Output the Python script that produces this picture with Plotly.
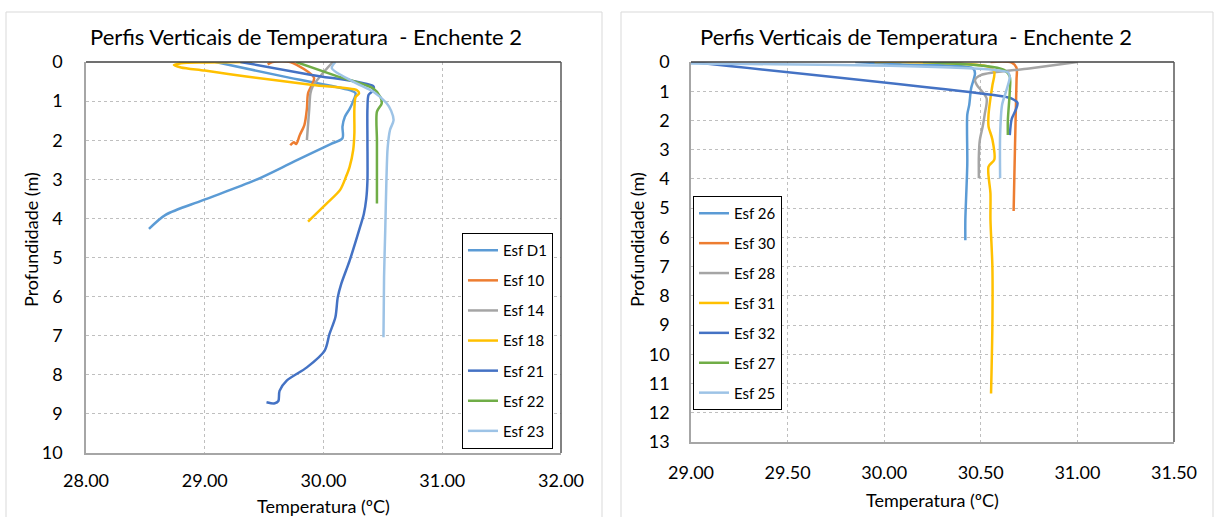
import plotly.graph_objects as go

W, H = 1214, 517

# ---------------- data: chart 1 (left) ----------------
title_text = "Perfis Verticais de Temperatura  - Enchente 2"
x_title = "Temperatura (ºC)"
y_title = "Profundidade (m)"

left_names = ["Esf D1", "Esf 10", "Esf 14", "Esf 18", "Esf 21", "Esf 22", "Esf 23"]

d1_temp = [29.09, 29.68, 30.22, 30.27, 30.25, 30.22, 30.18, 30.16, 30.16, 30.06, 29.75, 29.42, 28.98, 28.67, 28.53]
d1_depth = [0.00, 0.38, 0.72, 0.80, 1.00, 1.20, 1.40, 1.65, 1.95, 2.10, 2.55, 3.03, 3.54, 3.91, 4.27]

e10_temp = [29.53, 29.57, 29.72, 29.92, 29.90, 29.87, 29.86, 29.84, 29.80, 29.77, 29.75, 29.72]
e10_depth = [0.06, 0.00, 0.00, 0.40, 0.60, 0.80, 1.20, 1.60, 1.87, 2.10, 2.05, 2.13]

e14_temp = [30.08, 29.99, 29.91, 29.89, 29.88, 29.87, 29.86]
e14_depth = [0.00, 0.30, 0.62, 0.80, 1.20, 1.60, 2.00]

e18_temp = [29.40, 29.00, 28.80, 28.74, 28.80, 29.00, 29.35, 29.91, 30.28, 30.30, 30.27, 30.26, 30.26, 30.25, 30.22, 30.19, 30.14, 30.03, 29.87]
e18_depth = [0.00, 0.01, 0.03, 0.08, 0.14, 0.22, 0.37, 0.59, 0.72, 0.80, 0.90, 1.20, 1.82, 2.25, 2.68, 2.93, 3.27, 3.61, 4.08]

e21_temp = [29.30, 29.90, 30.42, 30.42, 30.38, 30.37, 30.37, 30.37, 30.36, 30.34, 30.31, 30.22, 30.15, 30.12, 30.10, 30.05, 30.01, 29.86, 29.69, 29.63, 29.62, 29.59, 29.52]
e21_depth = [0.00, 0.33, 0.62, 0.72, 0.84, 1.20, 2.00, 3.03, 3.50, 3.88, 4.20, 5.08, 5.67, 6.02, 6.53, 6.96, 7.38, 7.81, 8.15, 8.41, 8.67, 8.73, 8.70]

e22_temp = [29.77, 30.10, 30.42, 30.48, 30.49, 30.45, 30.45, 30.45, 30.45]
e22_depth = [0.00, 0.35, 0.68, 0.90, 1.06, 1.27, 2.00, 3.00, 3.62]

e23_temp = [30.10, 30.07, 30.25, 30.42, 30.53, 30.57, 30.59, 30.56, 30.54, 30.53, 30.52, 30.51, 30.505]
e23_depth = [0.00, 0.16, 0.50, 0.76, 1.05, 1.25, 1.49, 1.74, 2.20, 3.00, 4.30, 5.50, 7.04]

left_temps = [d1_temp, e10_temp, e14_temp, e18_temp, e21_temp, e22_temp, e23_temp]
left_depths = [d1_depth, e10_depth, e14_depth, e18_depth, e21_depth, e22_depth, e23_depth]

left_x_ticks = [28.0, 29.0, 30.0, 31.0, 32.0]
left_y_ticks = list(range(0, 11))

# ---------------- data: chart 2 (right) ----------------
right_names = ["Esf 26", "Esf 30", "Esf 28", "Esf 31", "Esf 32", "Esf 27", "Esf 25"]

e26_temp = [29.85, 30.08, 30.46, 30.47, 30.45, 30.44, 30.43, 30.43, 30.42, 30.42]
e26_depth = [0.00, 0.08, 0.22, 0.39, 0.90, 1.47, 1.80, 3.50, 5.40, 6.10]

e30_temp = [30.55, 30.66, 30.685, 30.685, 30.68, 30.675, 30.67]
e30_depth = [0.00, 0.02, 0.20, 0.60, 2.00, 3.50, 5.10]

e28_temp = [31.00, 30.75, 30.50, 30.47, 30.48, 30.53, 30.52, 30.51, 30.495, 30.49, 30.49]
e28_depth = [0.00, 0.22, 0.45, 0.62, 0.79, 1.24, 1.80, 2.20, 2.67, 3.20, 3.98]

e31_temp = [29.95, 30.10, 30.54, 30.57, 30.56, 30.55, 30.54, 30.54, 30.56, 30.57, 30.54, 30.55, 30.55, 30.56, 30.56, 30.553]
e31_depth = [0.00, 0.00, 0.16, 0.33, 0.80, 1.24, 1.80, 2.20, 2.65, 3.34, 3.58, 4.50, 5.40, 7.00, 9.00, 11.34]

e32_temp = [29.00, 30.61, 30.66, 30.69, 30.68, 30.66, 30.65]
e32_depth = [0.00, 1.17, 1.25, 1.40, 1.65, 1.95, 2.50]

e27_temp = [30.20, 30.50, 30.62, 30.65, 30.65, 30.64, 30.64]
e27_depth = [0.00, 0.12, 0.27, 0.50, 1.00, 2.00, 2.50]

e25_temp = [29.00, 30.08, 30.58, 30.64, 30.65, 30.63, 30.61, 30.60, 30.60]
e25_depth = [0.05, 0.14, 0.28, 0.35, 0.50, 1.02, 1.47, 2.50, 3.98]

right_temps = [e26_temp, e30_temp, e28_temp, e31_temp, e32_temp, e27_temp, e25_temp]
right_depths = [e26_depth, e30_depth, e28_depth, e31_depth, e32_depth, e27_depth, e25_depth]

right_x_ticks = [29.0, 29.5, 30.0, 30.5, 31.0, 31.5]
right_y_ticks = list(range(0, 14))

# ---------------- styling ----------------
left_colors = ["#5B9BD5", "#ED7D31", "#A5A5A5", "#FFC000", "#4472C4", "#70AD47", "#9DC3E6"]
right_colors = ["#5B9BD5", "#ED7D31", "#A5A5A5", "#FFC000", "#4472C4", "#70AD47", "#9DC3E6"]
FONT = "Lato"


def px(x):
    return x / W


def py(y):
    return 1 - y / H


fig = go.Figure()

for i, name in enumerate(left_names):
    fig.add_trace(go.Scatter(
        x=left_temps[i], y=left_depths[i], name=name, mode="lines",
        line=dict(color=left_colors[i], width=2.5, shape="spline", smoothing=0.8),
        xaxis="x", yaxis="y", legend="legend", legendgroup="L" + name,
    ))

for i, name in enumerate(right_names):
    fig.add_trace(go.Scatter(
        x=right_temps[i], y=right_depths[i], name=name, mode="lines",
        line=dict(color=right_colors[i], width=2.5, shape="spline", smoothing=0.8),
        xaxis="x2", yaxis="y2", legend="legend2", legendgroup="R" + name,
    ))

# plot-area pixel boxes
L = dict(x0=86, x1=561, y0=62, y1=453)
R = dict(x0=691, x1=1174, y0=62, y1=442)

common_axis = dict(
    showline=True, linecolor="#A6A6A6", linewidth=1.5, automargin=False,
    showgrid=True, gridcolor="#BFBFBF", griddash="dot", gridwidth=1,
    zeroline=False, ticks="", tickfont=dict(family=FONT, size=18, color="#000"),
)

fig.update_layout(
    template="none",
    width=W, height=H, autosize=False,
    margin=dict(l=0, r=0, t=0, b=0, pad=0, autoexpand=False),
    paper_bgcolor="white", plot_bgcolor="white",
    font=dict(family=FONT, color="#000"),
    xaxis=dict(domain=[px(L["x0"]), px(L["x1"])], range=[28, 32], tickvals=left_x_ticks,
               tickformat=".2f", anchor="y", ticklabelstandoff=11, **common_axis),
    yaxis=dict(domain=[py(L["y1"]), py(L["y0"])], range=[10, 0], tickvals=left_y_ticks,
               anchor="x", ticklabelstandoff=18, **common_axis),
    xaxis2=dict(domain=[px(R["x0"]), px(R["x1"])], range=[29, 31.5], tickvals=right_x_ticks,
                tickformat=".2f", anchor="y2", ticklabelstandoff=14, **common_axis),
    yaxis2=dict(domain=[py(R["y1"]), py(R["y0"])], range=[13, 0], tickvals=right_y_ticks,
                anchor="x2", ticklabelstandoff=16, **common_axis),
    legend=dict(x=px(462), y=py(233), xanchor="left", yanchor="top",
                bordercolor="#000", borderwidth=1, bgcolor="white",
                font=dict(family=FONT, size=15, color="#000"),
                tracegroupgap=7.6, traceorder="grouped"),
    legend2=dict(x=px(693), y=py(196), xanchor="left", yanchor="top",
                 bordercolor="#000", borderwidth=1, bgcolor="white",
                 font=dict(family=FONT, size=15, color="#000"),
                 tracegroupgap=7.4, traceorder="grouped"),
    showlegend=True,
)

shapes = []
# chart-area borders
shapes.append(dict(type="rect", xref="paper", yref="paper", x0=px(6), x1=px(602), y0=py(530), y1=py(12),
                   line=dict(color="#D9D9D9", width=1), layer="below"))
shapes.append(dict(type="rect", xref="paper", yref="paper", x0=px(621), x1=px(1213), y0=py(530), y1=py(12),
                   line=dict(color="#D9D9D9", width=1), layer="below"))
# darker top / right plot-area edges
for xa, ya in (("x", "y"), ("x2", "y2")):
    shapes.append(dict(type="line", xref=xa + " domain", yref=ya + " domain", x0=0, x1=1, y0=1, y1=1,
                       line=dict(color="#404040", width=1.5)))
    shapes.append(dict(type="line", xref=xa + " domain", yref=ya + " domain", x0=1, x1=1, y0=0, y1=1,
                       line=dict(color="#595959", width=1.5)))
fig.update_layout(shapes=shapes)

ann = []
ann.append(dict(text=title_text, x=px(306), y=py(36), xref="paper", yref="paper", showarrow=False,
                xanchor="center", yanchor="middle", font=dict(family=FONT, size=22, color="#000")))
ann.append(dict(text=title_text, x=px(916), y=py(36), xref="paper", yref="paper", showarrow=False,
                xanchor="center", yanchor="middle", font=dict(family=FONT, size=22, color="#000")))
ann.append(dict(text=x_title, x=px(323), y=py(506), xref="paper", yref="paper", showarrow=False,
                xanchor="center", yanchor="middle", font=dict(family=FONT, size=18, color="#000")))
ann.append(dict(text=x_title, x=px(932), y=py(500), xref="paper", yref="paper", showarrow=False,
                xanchor="center", yanchor="middle", font=dict(family=FONT, size=18, color="#000")))
ann.append(dict(text=y_title, x=px(31), y=py(240), xref="paper", yref="paper", showarrow=False, textangle=-90,
                xanchor="center", yanchor="middle", font=dict(family=FONT, size=18, color="#000")))
ann.append(dict(text=y_title, x=px(637), y=py(240), xref="paper", yref="paper", showarrow=False, textangle=-90,
                xanchor="center", yanchor="middle", font=dict(family=FONT, size=18, color="#000")))
fig.update_layout(annotations=ann)

fig.write_html("out.html", config={"displayModeBar": False},
               post_script="document.body.style.margin='0';document.body.style.overflow='hidden';")
